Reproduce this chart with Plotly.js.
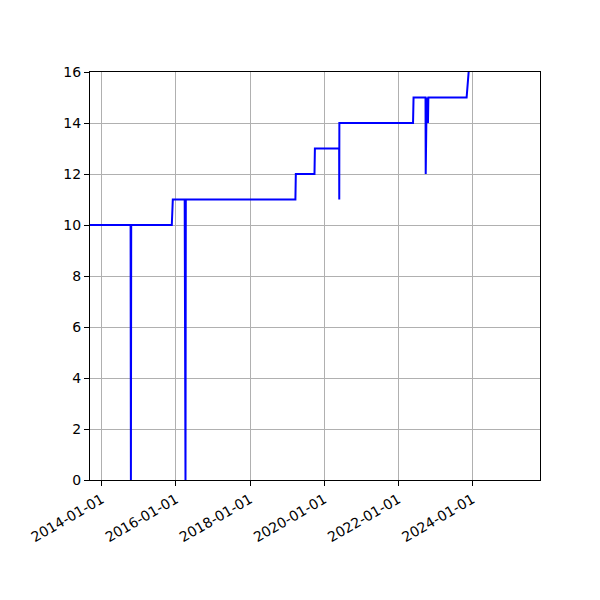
<!DOCTYPE html>
<html>
<head>
<meta charset="utf-8">
<script src="https://cdn.plot.ly/plotly-3.0.1.min.js"></script>
<style>html,body{margin:0;padding:0;background:#fff;}#chart{width:600px;height:600px;}</style>
</head>
<body>
<div id="chart"></div>
<script>
const dates = [
  '2013-09-01', '2014-10-12', '2014-10-15', '2014-10-18',
  '2015-11-22', '2015-12-02', '2016-03-28', '2016-03-30',
  '2016-04-02', '2016-04-05', '2016-04-08', '2019-03-24',
  '2019-03-28', '2019-09-28', '2019-10-02', '2020-05-28',
  '2020-05-29', '2020-05-30', '2022-05-26', '2022-05-31',
  '2022-09-26', '2022-09-28', '2022-09-30', '2022-10-04',
  '2022-10-08', '2022-10-12', '2022-10-16', '2022-10-20',
  '2022-10-24', '2023-11-05', '2023-11-25'
];
const values = [
  10, 10, 0, 10,
  10, 11, 11, 0,
  11, 0, 11, 11,
  12, 12, 13, 13,
  11, 14, 14, 15,
  15, 12, 15, 14,
  15, 14, 15, 14,
  15, 15, 16
];
const xTicks = ['2014-01-01', '2016-01-01', '2018-01-01', '2020-01-01', '2022-01-01', '2024-01-01'];
const yTicks = [0, 2, 4, 6, 8, 10, 12, 14, 16];

const trace = {
  x: dates,
  y: values,
  type: 'scatter',
  mode: 'lines',
  line: {color: '#0000ff', width: 2},
  hoverinfo: 'skip'
};

const tf = {family: 'DejaVu Sans, sans-serif', size: 14, color: '#000000'};

const layout = {
  width: 600,
  height: 600,
  margin: {l: 90, r: 60, t: 72, b: 120, pad: 0},
  paper_bgcolor: '#ffffff',
  plot_bgcolor: '#ffffff',
  showlegend: false,
  font: tf,
  xaxis: {
    type: 'date',
    range: ['2013-09-07', '2025-10-28'],
    tickmode: 'array',
    tickvals: xTicks,
    ticktext: xTicks,
    tickangle: -30,
    showgrid: true,
    gridcolor: '#b0b0b0',
    gridwidth: 1,
    showline: true,
    linecolor: '#000000',
    linewidth: 1,
    mirror: true,
    ticks: 'outside',
    ticklen: 5,
    tickcolor: '#000000',
    zeroline: false,
    automargin: false,
    tickfont: tf
  },
  yaxis: {
    range: [0, 16],
    tickmode: 'array',
    tickvals: yTicks,
    ticktext: yTicks.map(String),
    showgrid: true,
    gridcolor: '#b0b0b0',
    gridwidth: 1,
    showline: true,
    linecolor: '#000000',
    linewidth: 1,
    mirror: true,
    ticks: 'outside',
    ticklen: 5,
    tickcolor: '#000000',
    zeroline: false,
    automargin: false,
    tickfont: tf
  }
};

Plotly.newPlot('chart', [trace], layout, {staticPlot: true, displayModeBar: false});
</script>
</body>
</html>
